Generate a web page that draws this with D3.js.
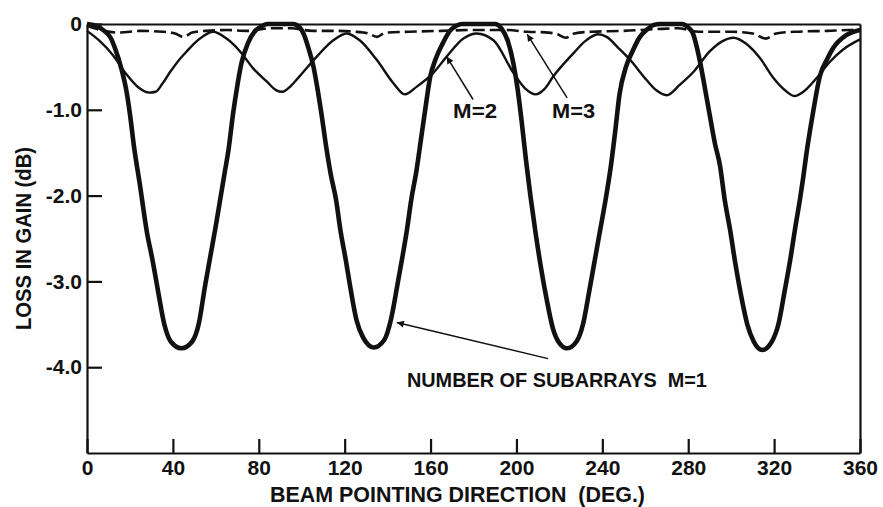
<!DOCTYPE html>
<html>
<head>
<meta charset="utf-8">
<script src="https://cdn.jsdelivr.net/npm/d3@7"></script>
<style>
  body { margin: 0; background: #fff; }
  svg { display: block; }
  text { font-family: "Liberation Sans", Arial, sans-serif; font-weight: bold; fill: #111; white-space: pre; }
</style>
</head>
<body>
<svg id="chart" width="883" height="507"></svg>
<script>
// axis ticks
const xTicks = [0, 40, 80, 120, 160, 200, 240, 280, 320, 360];
const yTicks = [0, -1, -2, -3, -4];
const yTickLabels = ['0', '-1.0', '-2.0', '-3.0', '-4.0'];

// [beam direction (deg), loss in gain (dB)]
const m1Points = [
    [0, 0], [4, -0.02], [8, -0.08], [11, -0.16], [13, -0.28], [16, -0.52], [18.5, -0.8], [20, -1.05],
    [22, -1.45], [24.5, -1.85], [28, -2.44], [30.5, -2.75], [33, -3.1], [36, -3.5], [39, -3.7], [44, -3.78],
    [49, -3.7], [52, -3.5], [55, -3.05], [57.5, -2.7], [60, -2.35], [62, -2.05], [64, -1.75], [66, -1.45],
    [68, -1.05], [70, -0.72], [72, -0.45], [75, -0.22], [78, -0.09], [81, -0.03], [84, 0], [96, 0],
    [99, -0.04], [101, -0.12], [103, -0.27], [105.5, -0.5], [107.5, -0.78], [109.5, -1.1], [111.5, -1.45],
    [113.5, -1.75], [116, -2.05], [118, -2.4], [120.5, -2.75], [122.5, -3.05], [125.5, -3.45], [128.5, -3.65],
    [133.5, -3.77], [138.5, -3.68], [141.5, -3.45], [144.5, -3.05], [147, -2.7], [149, -2.4], [151, -2.05],
    [153.5, -1.7], [155.5, -1.35], [157.5, -1.0], [159.8, -0.62], [162.5, -0.4], [165.8, -0.22], [169, -0.08],
    [172, -0.02], [175, 0], [190, 0],
    [193, -0.05], [196, -0.2], [198.5, -0.45], [200.5, -0.75], [202.5, -1.15], [204.5, -1.6], [206.5, -2.0],
    [209, -2.45], [211.5, -2.85], [214, -3.2], [217, -3.55], [220, -3.72], [223.5, -3.78], [228, -3.7],
    [231, -3.5], [234, -3.1], [236.5, -2.75], [239, -2.4], [241.5, -2.05], [244, -1.65], [246, -1.25],
    [248, -0.82], [251, -0.5], [254, -0.32], [257.5, -0.15], [261, -0.06], [264, -0.01], [267, 0], [277, 0],
    [280, -0.04], [282, -0.1], [285.5, -0.44], [288, -0.78], [290, -1.06], [292.5, -1.4], [294.8, -1.65],
    [297, -2.05], [299.5, -2.4], [302, -2.8], [304.5, -3.15], [307.5, -3.5], [310.5, -3.7], [314.5, -3.8],
    [319, -3.7], [322, -3.5], [325, -3.1], [327.5, -2.75], [330, -2.35], [332, -2.05], [333.5, -1.8],
    [335, -1.52], [338, -1.05], [341.4, -0.6], [344.5, -0.42], [347.5, -0.28], [353.6, -0.13], [360, -0.07]
];

const m2Points = [
    [0, -0.08], [6, -0.2], [12, -0.36], [18.5, -0.59], [24, -0.74], [29, -0.8], [32, -0.79], [35, -0.7],
    [38.7, -0.56], [42.5, -0.43], [46.4, -0.32], [52.6, -0.17], [58.8, -0.09], [65, -0.17], [71.3, -0.32],
    [77.5, -0.52], [83.7, -0.67], [88, -0.77], [91, -0.79], [95, -0.72], [99, -0.61], [107, -0.38],
    [114.7, -0.19], [121, -0.11], [127, -0.19], [135, -0.42], [142.7, -0.69], [148, -0.82], [153.6, -0.73],
    [161.3, -0.57], [167.5, -0.38], [175.3, -0.17], [181.5, -0.11], [189.3, -0.19], [198.6, -0.57],
    [204, -0.75], [209, -0.82], [213, -0.76], [217.2, -0.61], [226.6, -0.34], [232, -0.2], [238, -0.12],
    [242, -0.15], [247.5, -0.28], [253, -0.42], [260.5, -0.65], [265, -0.77], [270, -0.83], [276, -0.71],
    [282.4, -0.56], [290, -0.32], [296, -0.2], [301, -0.16], [307, -0.23], [313.5, -0.4], [319.7, -0.63],
    [325.9, -0.79], [329.5, -0.84], [333.6, -0.79], [339.8, -0.63], [346, -0.44], [352, -0.3], [360, -0.18]
];

const m3Points = [
    [0, -0.02], [8, -0.08], [15, -0.1], [25, -0.08], [35, -0.09], [41, -0.11], [45, -0.15], [49, -0.1],
    [55, -0.08], [65, -0.07], [75, -0.08], [85, -0.05], [95, -0.05], [105, -0.08], [115, -0.08],
    [125, -0.09], [131, -0.11], [135, -0.15], [139, -0.1], [150, -0.09], [165, -0.08], [180, -0.07],
    [195, -0.07], [205, -0.09], [215, -0.1], [219, -0.12], [223, -0.16], [227, -0.11], [235, -0.09],
    [250, -0.08], [265, -0.06], [275, -0.05], [285, -0.09], [300, -0.09], [310, -0.11], [316, -0.17],
    [321, -0.11], [330, -0.09], [345, -0.08], [355, -0.07], [360, -0.07]
];

// label text, label start (deg, dB baseline), label width, arrow tail, arrow tip
const annotations = [
    { text: 'M=2', at: [170.5, -1.09], width: 44, from: [179.8, -0.88], to: [167.5, -0.38] },
    { text: 'M=3', at: [216.6, -1.09], width: 43, from: [223.6, -0.86], to: [205, -0.12] },
    { text: 'NUMBER OF SUBARRAYS  M=1', at: [149, -4.23], width: 300, from: [214.7, -3.9], to: [144.3, -3.48] }
];

const svg = d3.select('#chart');

const x = d3.scaleLinear().domain([0, 360]).range([87, 860]);
const y = d3.scaleLinear().domain([-5, 0]).range([453, 24]);

svg.append('defs').append('marker')
    .attr('id', 'head')
    .attr('viewBox', '0 0 10 10')
    .attr('refX', 10).attr('refY', 5)
    .attr('markerWidth', 9).attr('markerHeight', 7)
    .attr('markerUnits', 'userSpaceOnUse')
    .attr('orient', 'auto')
    .append('path').attr('d', 'M0,0 L10,5 L0,10 Z').attr('fill', '#111');

// axes (ticks drawn inward)
const xAxis = svg.append('g')
    .attr('transform', `translate(0,${y(-5)})`)
    .call(d3.axisBottom(x).tickValues(xTicks).tickSize(-14).tickSizeOuter(0).tickPadding(7));

const yAxis = svg.append('g')
    .attr('transform', `translate(${x(0)},0)`)
    .call(d3.axisLeft(y).tickValues(yTicks).tickSize(-15).tickSizeOuter(0).tickPadding(5)
        .tickFormat((d, i) => yTickLabels[i]));

svg.append('g')
    .attr('transform', `translate(0,${y(0)})`)
    .call(d3.axisTop(x).tickValues([]).tickSizeOuter(0));
svg.append('g')
    .attr('transform', `translate(${x(360)},0)`)
    .call(d3.axisRight(y).tickValues([]).tickSizeOuter(0));

svg.selectAll('.domain, .tick line').attr('stroke', '#111').attr('stroke-width', 2.2);
svg.selectAll('.tick text')
    .attr('fill', '#111')
    .attr('font-size', 21)
    .style('font-family', '"Liberation Sans", Arial, sans-serif')
    .style('font-weight', 'bold');

// curves
const line = d3.line()
    .x(d => x(d[0]))
    .y(d => y(d[1]))
    .curve(d3.curveMonotoneX);

svg.append('path').datum(m3Points)
    .attr('d', line).attr('fill', 'none').attr('stroke', '#111')
    .attr('stroke-width', 2.6).attr('stroke-dasharray', '12,5');

svg.append('path').datum(m2Points)
    .attr('d', line).attr('fill', 'none').attr('stroke', '#111')
    .attr('stroke-width', 2.4);

svg.append('path').datum(m1Points)
    .attr('d', line).attr('fill', 'none').attr('stroke', '#111')
    .attr('stroke-width', 4.6).attr('stroke-linejoin', 'round');

// annotations
annotations.forEach(a => {
    svg.append('line')
        .attr('x1', x(a.from[0])).attr('y1', y(a.from[1]))
        .attr('x2', x(a.to[0])).attr('y2', y(a.to[1]))
        .attr('stroke', '#111').attr('stroke-width', 1.5)
        .attr('marker-end', 'url(#head)');
    svg.append('text')
        .attr('x', x(a.at[0])).attr('y', y(a.at[1]))
        .attr('font-size', 21)
        .attr('textLength', a.width).attr('lengthAdjust', 'spacingAndGlyphs')
        .text(a.text);
});

// axis titles
svg.append('text')
    .attr('x', 270).attr('y', 502)
    .attr('font-size', 22)
    .attr('textLength', 375).attr('lengthAdjust', 'spacingAndGlyphs')
    .text('BEAM POINTING DIRECTION  (DEG.)');

svg.append('text')
    .attr('transform', 'translate(31,330) rotate(-90)')
    .attr('font-size', 22)
    .attr('textLength', 183).attr('lengthAdjust', 'spacingAndGlyphs')
    .text('LOSS IN GAIN (dB)');
</script>
</body>
</html>
